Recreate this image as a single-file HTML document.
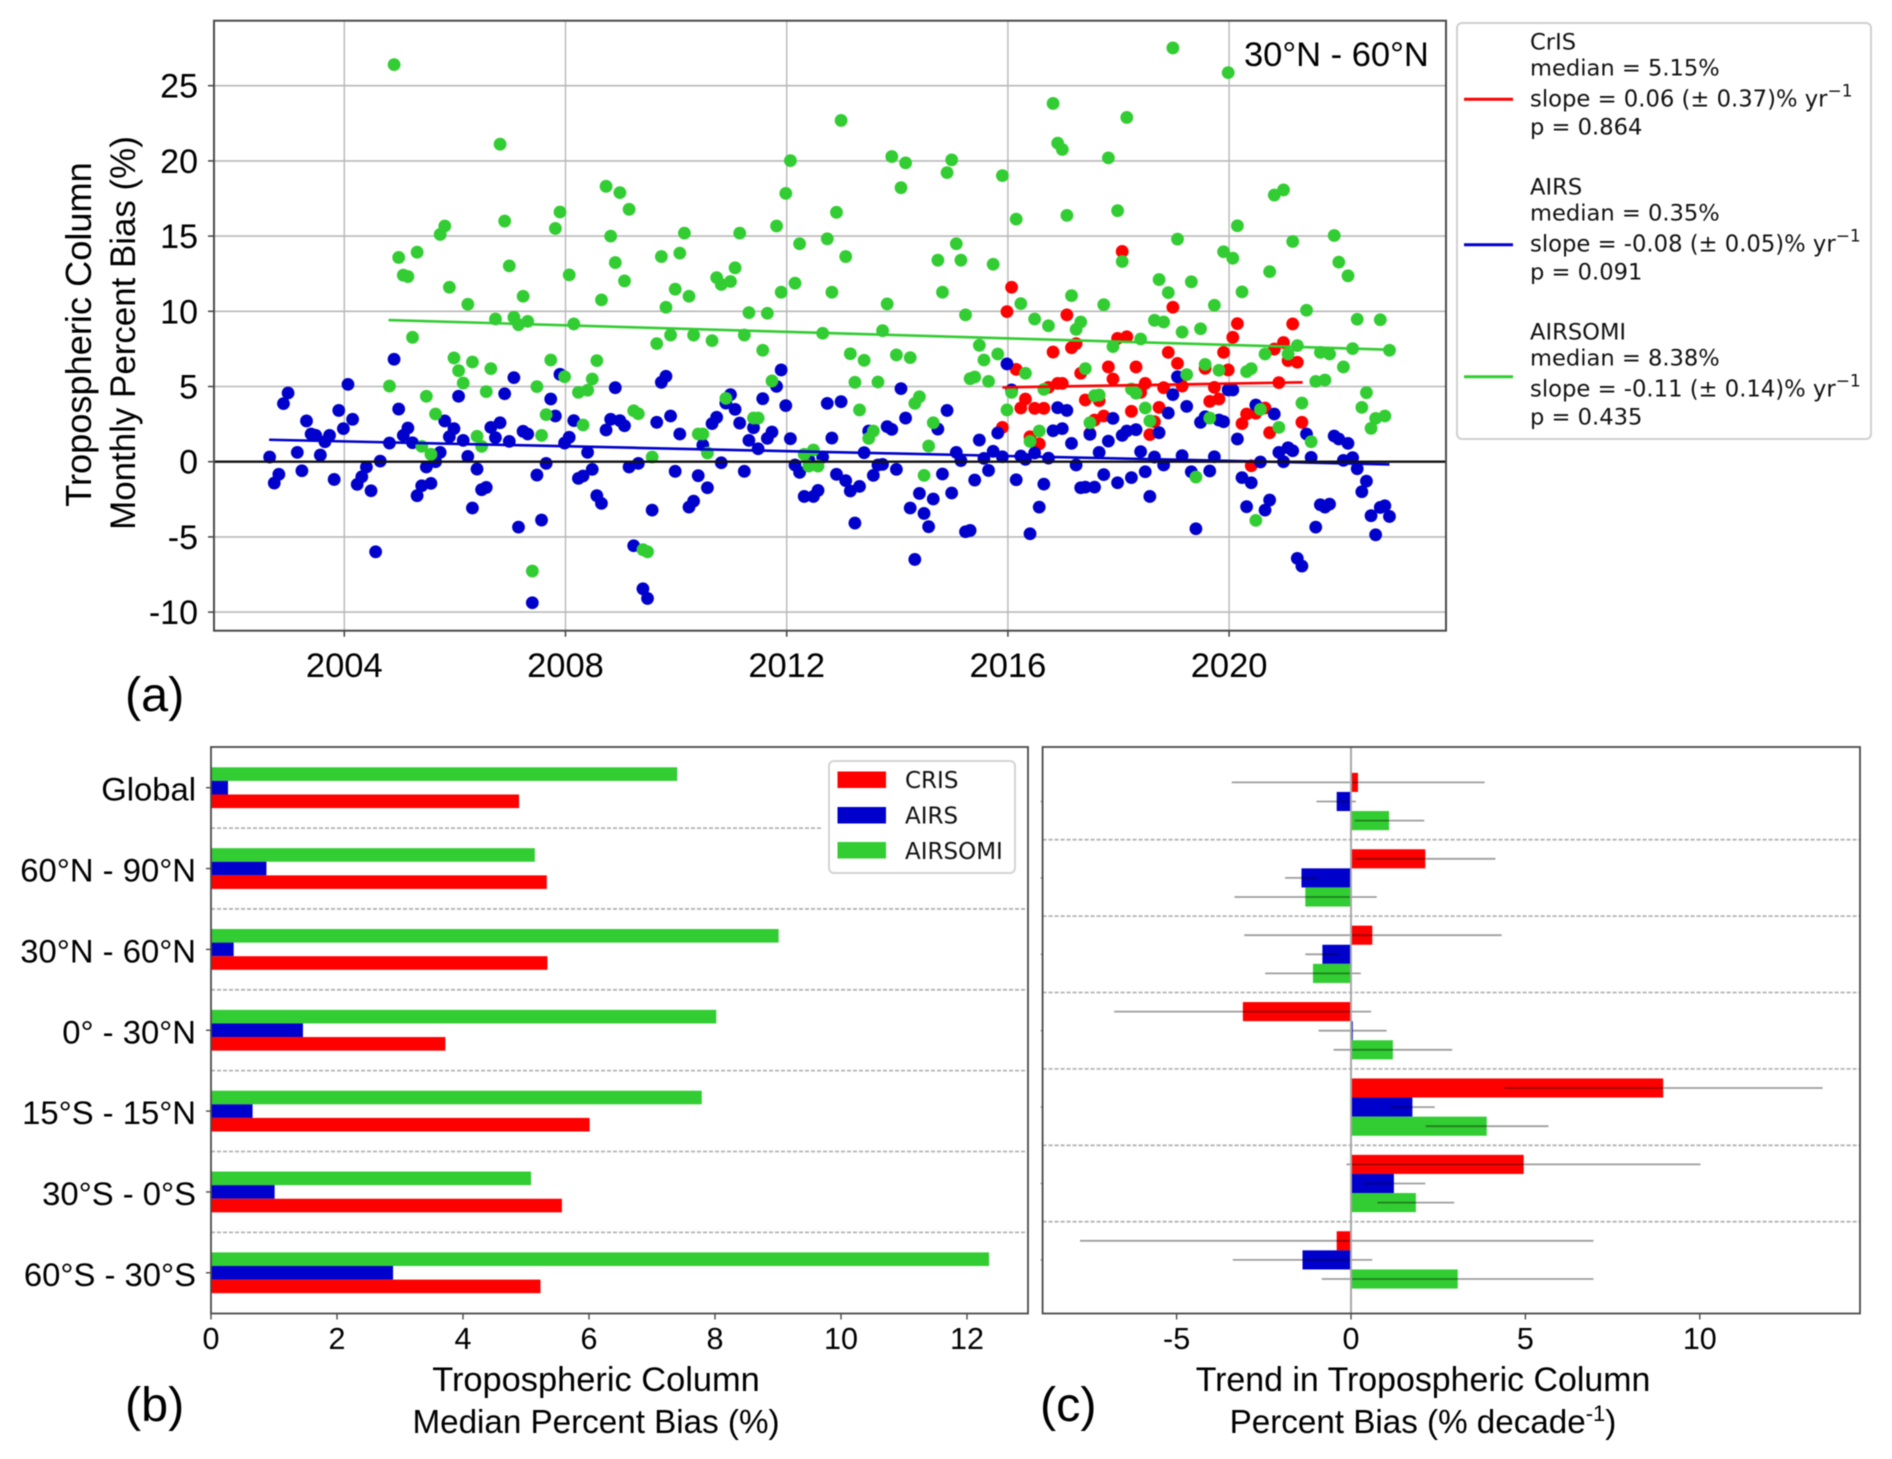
<!DOCTYPE html>
<html lang="en">
<head>
<meta charset="utf-8">
<title>Tropospheric Column Percent Bias</title>
<style>
html,body{margin:0;padding:0;background:#fff;}
svg{display:block;filter:blur(0.45px);}
text{font-family:"Liberation Sans",sans-serif;fill:#000;}
.dj{font-family:"DejaVu Sans",sans-serif;fill:#111;}
</style>
</head>
<body>
<svg id="fig" xmlns="http://www.w3.org/2000/svg" width="1892" height="1459" viewBox="0 0 1892 1459">
  <rect x="0" y="0" width="1892" height="1459" fill="#fff"/>
  <g id="panelA"></g>
  <g id="panelB"></g>
  <g id="panelC"></g>

  <text x="125" y="711" font-size="48.5">(a)</text>
  <text x="125" y="1421" font-size="48.5">(b)</text>
  <text x="1040" y="1421" font-size="48.5">(c)</text>

  <text transform="translate(91,334.5) rotate(-90)" text-anchor="middle" font-size="36.2">Tropospheric Column</text>
  <text transform="translate(135,333) rotate(-90)" text-anchor="middle" font-size="34.9">Monthly Percent Bias (%)</text>
  <text x="1244" y="66" font-size="34.5">30°N - 60°N</text>

  <g>
    <rect x="1457" y="23" width="414" height="416" rx="5" fill="#fff" stroke="#d0d0d0" stroke-width="2"/>
    <line x1="1464" y1="99.3" x2="1513" y2="99.3" stroke="#ff0000" stroke-width="3"/>
    <line x1="1464" y1="244.7" x2="1513" y2="244.7" stroke="#0000cd" stroke-width="3"/>
    <line x1="1464" y1="376.7" x2="1513" y2="376.7" stroke="#32cd32" stroke-width="3"/>
    <g>
      <text class="dj" x="1530" y="49.3" font-size="22.6">CrIS</text>
      <text class="dj" x="1530" y="75.3" font-size="22.6">median = 5.15%</text>
      <text class="dj" x="1530" y="106.7" font-size="22.7">slope = 0.06 (± 0.37)% yr<tspan font-size="17" dy="-10">−1</tspan></text>
      <text class="dj" x="1530" y="134.3" font-size="22.6">p = 0.864</text>
      <text class="dj" x="1530" y="194.7" font-size="22.6">AIRS</text>
      <text class="dj" x="1530" y="220.7" font-size="22.6">median = 0.35%</text>
      <text class="dj" x="1530" y="251.7" font-size="22.7">slope = -0.08 (± 0.05)% yr<tspan font-size="17" dy="-10">−1</tspan></text>
      <text class="dj" x="1530" y="279.3" font-size="22.6">p = 0.091</text>
      <text class="dj" x="1530" y="339.3" font-size="22.6">AIRSOMI</text>
      <text class="dj" x="1530" y="365.7" font-size="22.6">median = 8.38%</text>
      <text class="dj" x="1530" y="396.3" font-size="22.7">slope = -0.11 (± 0.14)% yr<tspan font-size="17" dy="-10">−1</tspan></text>
      <text class="dj" x="1530" y="424.3" font-size="22.6">p = 0.435</text>
    </g>
  </g>

  <text x="596" y="1391" text-anchor="middle" font-size="34.4">Tropospheric Column</text>
  <text x="596" y="1433" text-anchor="middle" font-size="33.2">Median Percent Bias (%)</text>
  <text x="1423" y="1391" text-anchor="middle" font-size="33.9">Trend in Tropospheric Column</text>
  <text x="1423" y="1433" text-anchor="middle" font-size="33.2">Percent Bias (% decade<tspan font-size="22" dy="-12">-1</tspan><tspan dy="12">)</tspan></text>
</svg>

<script>
// ---------- Panel (a) data: monthly percent bias ----------
const airsStartYear = 2002.65;
const airsValues = [
0.31,-1.42,-0.84,3.86,4.57,null,0.62,-0.60,2.71,1.84,1.75,0.44,1.33,1.75,-1.18,3.41,2.20,5.14,2.82,-1.51,
-1.00,-0.35,-1.93,-5.99,0.04,null,1.24,6.81,3.50,1.75,2.24,1.26,-2.26,-1.60,-0.35,-1.44,0,0.62,2.71,1.66,
2.20,4.35,1.42,0.35,-3.08,-0.49,-1.86,-1.71,2.28,1.60,2.59,4.52,1.35,5.59,-4.35,2.02,1.84,-9.38,-0.89,-3.88,
-0.11,4.17,3.04,5.81,1.24,1.62,2.73,-1.11,-0.95,0.62,-0.51,-2.26,-2.77,2.11,2.82,4.92,2.73,2.39,-0.35,-5.59,
-0.11,-8.45,-9.09,-3.22,2.62,5.28,5.68,3.04,-0.64,1.84,null,-3.02,-2.62,-0.93,1.11,-1.73,2.53,2.95,-0.07,3.90,
4.46,3.48,2.57,-0.64,1.42,2.26,0.86,4.19,1.55,1.97,5.01,6.10,3.73,1.53,-0.22,-0.71,-2.31,0.11,-2.31,-1.91,
0.31,3.88,1.57,-0.84,3.99,-1.26,-1.95,-4.08,-1.64,0.60,2.04,-0.91,-0.22,-0.18,2.33,2.15,-0.51,4.86,2.90,-3.08,
-6.50,-2.11,-3.44,-4.32,-2.48,2.17,-0.82,3.41,-2.08,0.62,0.07,-4.66,-4.57,-1.22,1.44,0.22,-0.58,0.69,1.91,0.33,
6.50,4.77,-1.20,0.38,0.16,-4.79,0.58,-3.02,-1.49,0.24,2.06,3.59,2.20,3.41,1.22,-0.22,-1.73,-1.69,1.82,-1.69,
0.62,-0.86,1.37,2.88,-1.40,1.75,2.04,-1.06,2.13,0.67,-0.67,-2.31,0.31,1.93,-0.22,3.24,4.46,5.65,0.40,3.68,
-0.67,-4.46,2.62,2.99,-0.62,0.33,2.77,2.66,4.77,4.77,1.51,-1.06,-2.99,-1.40,3.77,-0.02,-3.22,-2.55,3.17,0.62,
0,0.93,0.73,-6.43,-6.94,1.84,0.29,-4.35,-2.86,-3.02,-2.82,1.71,1.51,0.09,1.22,0.27,-0.47,-2.00,-1.29,-3.59,
-4.86,-3.04,-2.93,-3.64
];
const airsomiStartYear = 2004.817;
const airsomiValues = [
5.03,26.40,13.58,12.40,12.31,8.27,13.93,1.02,4.35,0.49,3.17,15.11,15.67,11.60,6.90,6.05,5.23,10.47,6.63,1.69,
1.02,4.66,6.19,9.49,21.11,16.00,13.02,9.60,9.11,11.00,9.33,-7.27,4.99,1.75,3.13,6.76,15.51,16.60,5.65,12.42,
9.16,4.61,2.44,4.75,5.50,6.72,10.76,18.31,15.00,13.24,17.89,12.02,16.78,3.39,3.19,-5.85,-5.99,0.31,7.85,13.64,
10.27,8.42,11.47,13.87,15.20,11.00,8.42,1.84,1.84,0.58,8.05,12.24,11.78,4.21,11.98,12.89,15.20,8.42,9.91,2.90,
2.90,7.41,9.87,5.37,15.67,11.27,17.84,20.02,11.87,14.49,0.49,-0.29,0.78,-0.29,8.54,14.82,11.27,16.58,22.69,13.64,
7.18,5.28,3.44,6.74,1.55,2.04,5.30,8.71,10.49,20.29,7.10,18.22,19.87,6.92,3.88,4.32,-0.91,1.04,2.59,13.40,
11.27,19.22,20.07,14.49,13.40,9.76,5.52,5.63,7.74,6.76,5.34,13.13,7.16,19.02,3.44,4.61,16.13,10.51,5.88,1.35,
9.49,2.04,4.81,9.04,23.82,21.18,20.76,16.38,11.04,8.80,9.29,6.19,2.59,4.39,4.43,10.44,20.20,7.65,16.69,13.31,
22.89,4.83,4.55,8.16,3.57,2.71,9.40,12.11,9.29,11.24,27.51,14.80,8.62,5.79,11.96,-1.02,8.84,6.47,2.90,10.40,
6.08,13.96,25.87,13.53,15.69,11.29,5.99,6.19,-3.90,3.48,7.16,12.64,17.73,2.28,18.07,7.16,14.64,7.72,3.90,10.07,
1.33,5.34,7.27,5.43,7.16,15.04,13.27,6.30,12.36,7.52,9.47,3.61,4.59,2.22,2.88,9.44,3.04,7.41
];
const crisStartYear = 2015.9;
const crisValues = [
2.28,9.98,11.60,6.14,3.57,4.17,1.66,3.55,1.18,3.55,4.94,7.29,5.21,5.21,9.76,7.58,7.85,5.88,4.10,1.88,
2.77,4.06,3.04,6.30,5.50,8.20,13.98,8.31,3.35,6.30,4.61,5.21,1.80,2.66,3.61,4.92,7.27,10.27,6.54,5.03,
null,null,null,null,6.21,4.01,4.94,4.17,7.27,6.10,8.27,9.18,2.53,3.17,-0.27,3.22,null,3.57,1.93,7.49,
5.26,7.92,6.72,9.16,6.61,2.62
];
const crisTrendYears = [2015.9, 2021.33];
const crisTrendValues = [4.94, 5.28];
const airsTrendYears = [2002.64, 2022.9];
const airsTrendValues = [1.46, -0.18];
const airsomiTrendYears = [2004.8, 2022.9];
const airsomiTrendValues = [9.42, 7.45];
const yearTicks = [2004, 2008, 2012, 2016, 2020];
const percentTicks = [-10, -5, 0, 5, 10, 15, 20, 25];

// ---------- Panel (b) data: median percent bias ----------
const regions = ["Global","60°N - 90°N","30°N - 60°N","0° - 30°N","15°S - 15°N","30°S - 0°S","60°S - 30°S"];
const medianAirsomi = [7.40,5.14,9.01,8.02,7.79,5.08,12.35];
const medianAirs = [0.27,0.88,0.36,1.46,0.66,1.01,2.89];
const medianCris = [4.89,5.33,5.34,3.72,6.01,5.57,5.23];
const medianTicks = [0,2,4,6,8,10,12];

// ---------- Panel (c) data: trend per decade ----------
const trendCris = [0.20,2.13,0.61,-3.10,8.95,4.95,-0.41];
const trendAirs = [-0.41,-1.42,-0.82,0.05,1.76,1.23,-1.39];
const trendAirsomi = [1.09,-1.31,-1.09,1.20,3.89,1.86,3.06];
const trendCrisLow = [-3.42,0.11,-3.06,-6.79,4.40,-0.13,-7.77];
const trendCrisHigh = [3.83,4.14,4.32,0.58,13.52,10.02,6.95];
const trendAirsLow = [-0.99,-1.89,-1.31,-0.93,1.12,0.36,-3.39];
const trendAirsHigh = [0.14,-0.96,-0.36,1.02,2.40,2.13,0.61];
const trendAirsomiLow = [0.11,-3.34,-2.46,-0.50,2.14,0.76,-0.84];
const trendAirsomiHigh = [2.10,0.74,0.28,2.90,5.66,2.96,6.95];
const trendTicks = [-5,0,5,10];

// ---------- Colours & scales ----------
const RED = '#ff0000', BLUE = '#0000cd', GREEN = '#32cd32', GRID = '#b8b8b8', SPINE = '#4a4a4a';
const NS = 'http://www.w3.org/2000/svg';

const A = {l:214, r:1446, t:20.7, b:630.7};
const xA = y => 344.3 + (y - 2004) * 55.3;
const yA = v => 461.7 - v * 15.04;

const B = {l:211, r:1028, t:747, b:1313.5};
const xB = v => 211 + v * 63;
const yB = i => 787.7 + i * 80.85;
const barHB = 13.6;

const C = {l:1042.6, r:1860, t:747, b:1313.5};
const xC = v => 1351 + v * 34.88;
const yC = i => 801.5 + i * 76.4;
const barHC = 19.1;

function mk(parent, tag, attrs, txt){
  const n = document.createElementNS(NS, tag);
  for (const k in attrs) n.setAttribute(k, attrs[k]);
  if (txt !== undefined) n.textContent = txt;
  parent.appendChild(n);
  return n;
}
let el;

// ---------- Panel A ----------
const pa = document.getElementById('panelA');
percentTicks.forEach(v => {
  el = mk(pa,'line',{x1:A.l,x2:A.r,y1:yA(v),y2:yA(v),stroke:GRID,'stroke-width':1.6});
  
  
  el = mk(pa,'line',{x1:A.l-6,x2:A.l,y1:yA(v),y2:yA(v),stroke:SPINE,'stroke-width':1.6});
  
  
  el = mk(pa,'text',{x:198,y:yA(v)+12,'text-anchor':'end','font-size':34}, String(v));
  
  
});
yearTicks.forEach(y => {
  el = mk(pa,'line',{x1:xA(y),x2:xA(y),y1:A.t,y2:A.b,stroke:GRID,'stroke-width':1.4});
  
  
  el = mk(pa,'line',{x1:xA(y),x2:xA(y),y1:A.b,y2:A.b+6,stroke:SPINE,'stroke-width':1.6});
  
  
  el = mk(pa,'text',{x:xA(y),y:677,'text-anchor':'middle','font-size':34.5}, String(y));
  
  
});
function drawDots(values, startYear, colour, name){
  const g = mk(pa,'g',{});
  
  
  values.forEach((v,i) => {
    if (v === null) return;
    const p = mk(g,'circle',{cx:xA(startYear + i/12),cy:yA(v),r:6.4,fill:colour});
    
    
  });
}
drawDots(crisValues, crisStartYear, RED, 'cris');
drawDots(airsValues, airsStartYear, BLUE, 'airs');
drawDots(airsomiValues, airsomiStartYear, GREEN, 'airsomi');
el = mk(pa,'line',{x1:xA(crisTrendYears[0]),y1:yA(crisTrendValues[0]),x2:xA(crisTrendYears[1]),y2:yA(crisTrendValues[1]),stroke:RED,'stroke-width':2.6});


el = mk(pa,'line',{x1:xA(airsTrendYears[0]),y1:yA(airsTrendValues[0]),x2:xA(airsTrendYears[1]),y2:yA(airsTrendValues[1]),stroke:BLUE,'stroke-width':2.6});


el = mk(pa,'line',{x1:xA(airsomiTrendYears[0]),y1:yA(airsomiTrendValues[0]),x2:xA(airsomiTrendYears[1]),y2:yA(airsomiTrendValues[1]),stroke:GREEN,'stroke-width':2.6});


el = mk(pa,'line',{x1:A.l,x2:A.r,y1:yA(0),y2:yA(0),stroke:'#111','stroke-width':2.4});


el = mk(pa,'rect',{x:A.l,y:A.t,width:A.r-A.l,height:A.b-A.t,fill:'none',stroke:SPINE,'stroke-width':2});



// ---------- Panel B ----------
const pb = document.getElementById('panelB');
regions.forEach((r,i) => {
  const yc = yB(i);
  el = mk(pb,'rect',{x:xB(0),y:yc-barHB*1.5,width:xB(medianAirsomi[i])-xB(0),height:barHB,fill:GREEN});
  
  
  el = mk(pb,'rect',{x:xB(0),y:yc-barHB*0.5,width:xB(medianAirs[i])-xB(0),height:barHB,fill:BLUE});
  
  
  el = mk(pb,'rect',{x:xB(0),y:yc+barHB*0.5,width:xB(medianCris[i])-xB(0),height:barHB,fill:RED});
  
  
  el = mk(pb,'line',{x1:B.l-5,x2:B.l,y1:yc,y2:yc,stroke:SPINE,'stroke-width':1.4});
  
  
  el = mk(pb,'text',{x:196,y:yc+13,'text-anchor':'end','font-size':32.8}, r);
  
  
  if (i < regions.length - 1) {
    el = mk(pb,'line',{x1:B.l,x2:i === 0 ? 821 : B.r,y1:yc+40.4,y2:yc+40.4,stroke:'#b4b4b4','stroke-width':1.8,'stroke-dasharray':'4 2'});
    
    
  }
});
medianTicks.forEach(v => {
  el = mk(pb,'line',{x1:xB(v),x2:xB(v),y1:B.b,y2:B.b+6,stroke:SPINE,'stroke-width':1.4});
  
  
  el = mk(pb,'text',{x:xB(v),y:1349,'text-anchor':'middle','font-size':30.5}, String(v));
  
  
});
el = mk(pb,'rect',{x:B.l,y:B.t,width:B.r-B.l,height:B.b-B.t,fill:'none',stroke:SPINE,'stroke-width':1.8});



const lg = mk(pb,'g',{});


el = mk(lg,'rect',{x:829,y:761,width:186,height:112,rx:5,fill:'#fff',stroke:'#d4d4d4','stroke-width':2});


el = mk(lg,'rect',{x:837.5,y:771.5,width:48.5,height:16.5,fill:RED});


el = mk(lg,'text',{x:905,y:788,'font-size':23,class:'dj'}, 'CRIS');


el = mk(lg,'rect',{x:837.5,y:807,width:48.5,height:16.5,fill:BLUE});


el = mk(lg,'text',{x:905,y:823.5,'font-size':23,class:'dj'}, 'AIRS');


el = mk(lg,'rect',{x:837.5,y:842,width:48.5,height:16.5,fill:GREEN});


el = mk(lg,'text',{x:905,y:859,'font-size':23,class:'dj'}, 'AIRSOMI');



// ---------- Panel C ----------
const pc = document.getElementById('panelC');
function hbar(v, yTop, colour, name){
  const x0 = Math.min(xC(0), xC(v));
  const w = Math.abs(xC(v) - xC(0));
  const b = mk(pc,'rect',{x:x0,y:yTop,width:w,height:barHC,fill:colour});
  
  
}
function errbar(lo, hi, y, name){
  const e = mk(pc,'line',{x1:xC(lo),x2:xC(hi),y1:y,y2:y,stroke:'#000','stroke-opacity':0.38,'stroke-width':1.8});
  
  
}
regions.forEach((r,i) => {
  const yc = yC(i);
  hbar(trendCris[i], yc-barHC*1.5, RED, 'trend-bar-cris');
  hbar(trendAirs[i], yc-barHC*0.5, BLUE, 'trend-bar-airs');
  hbar(trendAirsomi[i], yc+barHC*0.5, GREEN, 'trend-bar-airsomi');
  errbar(trendCrisLow[i], trendCrisHigh[i], yc-barHC, 'trend-error-cris');
  errbar(trendAirsLow[i], trendAirsHigh[i], yc, 'trend-error-airs');
  errbar(trendAirsomiLow[i], trendAirsomiHigh[i], yc+barHC, 'trend-error-airsomi');
  el = mk(pc,'line',{x1:C.l-2,x2:C.l,y1:yc,y2:yc,stroke:'#888','stroke-width':1.2});
  
  
  if (i < regions.length - 1) {
    el = mk(pc,'line',{x1:C.l,x2:C.r,y1:yc+38.2,y2:yc+38.2,stroke:'#b4b4b4','stroke-width':1.8,'stroke-dasharray':'4 2'});
    
    
  }
});
el = mk(pc,'line',{x1:xC(0),x2:xC(0),y1:C.t,y2:C.b,stroke:'#a8a8a8','stroke-width':2});


trendTicks.forEach(v => {
  el = mk(pc,'line',{x1:xC(v),x2:xC(v),y1:C.b,y2:C.b+6,stroke:SPINE,'stroke-width':1.4});
  
  
  el = mk(pc,'text',{x:xC(v),y:1349,'text-anchor':'middle','font-size':30.5}, String(v));
  
  
});
el = mk(pc,'rect',{x:C.l,y:C.t,width:C.r-C.l,height:C.b-C.t,fill:'none',stroke:SPINE,'stroke-width':1.8});


</script>
</body>
</html>
